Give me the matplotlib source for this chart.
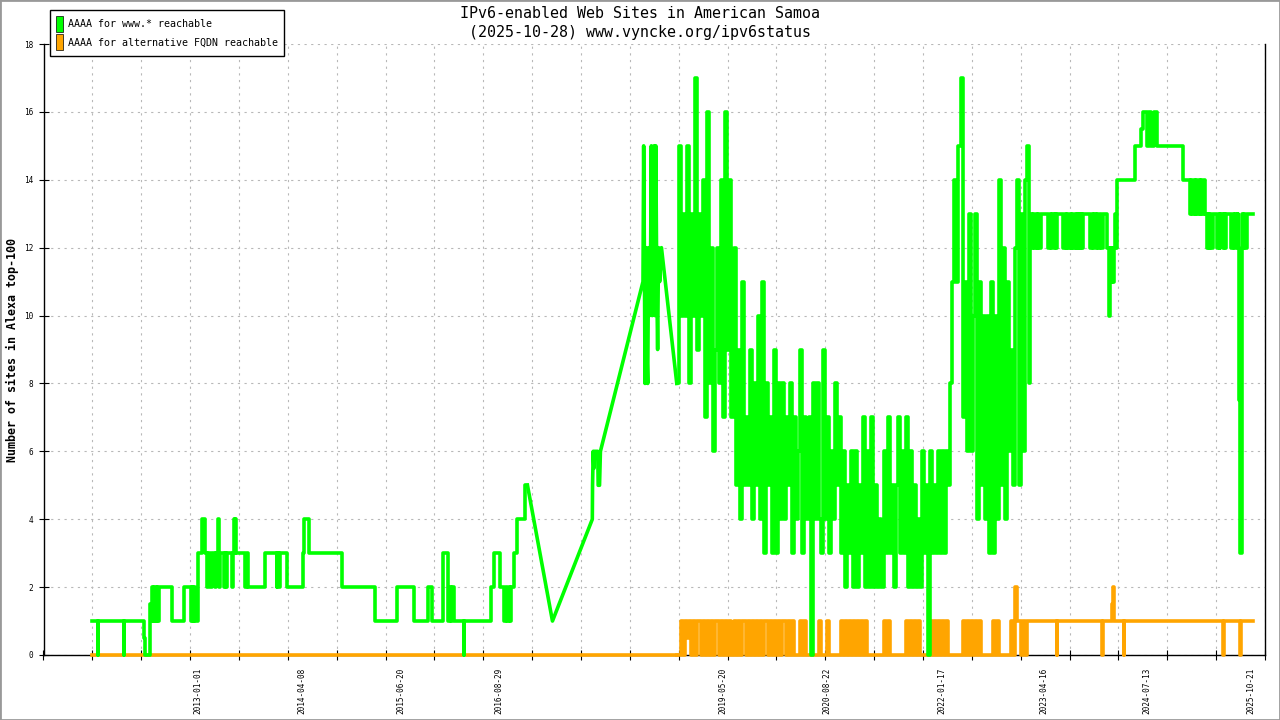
import matplotlib
matplotlib.use('Agg')
import matplotlib.pyplot as plt
import matplotlib.dates as mdates
from matplotlib.patches import Patch, Rectangle
import numpy as np
import pandas as pd

GREEN = '#00ff00'
ORANGE = '#ffa500'
MONO = 'DejaVu Sans Mono'

# --- AAAA for www.* : quiet years, count holds until the next date ---
green_early_dates = [
    '2011-09-16', '2011-10-13', '2011-10-15', '2012-02-06', '2012-02-08', '2012-05-05',
    '2012-05-09', '2012-06-01', '2012-06-05', '2012-06-09', '2012-06-14', '2012-06-20',
    '2012-06-25', '2012-06-30', '2012-07-04', '2012-07-10', '2012-09-07', '2012-10-30',
    '2012-12-01', '2012-12-05', '2012-12-10', '2012-12-15', '2012-12-19', '2012-12-29',
    '2013-01-19', '2013-01-31', '2013-02-08', '2013-02-12', '2013-02-24', '2013-03-02',
    '2013-03-17', '2013-03-20', '2013-03-28', '2013-04-04', '2013-04-08', '2013-04-26',
    '2013-04-30', '2013-05-05', '2013-05-09', '2013-06-01', '2013-06-04', '2013-06-07',
    '2013-06-12', '2013-06-15', '2013-06-18', '2013-07-28', '2013-08-04', '2013-08-11',
    '2013-10-25', '2013-12-16', '2013-12-19', '2013-12-24', '2013-12-31', '2014-01-29',
    '2014-04-10', '2014-04-16', '2014-05-08', '2014-05-10', '2014-10-01', '2015-02-27',
    '2015-06-03', '2015-08-15', '2015-10-20', '2015-11-04', '2015-12-26', '2016-01-17',
    '2016-01-24', '2016-01-28', '2016-02-02', '2016-02-12', '2016-03-26', '2016-03-28',
    '2016-07-23', '2016-08-05', '2016-09-03', '2016-09-20', '2016-09-27', '2016-10-04',
    '2016-10-13', '2016-10-17', '2016-10-22', '2016-11-02', '2016-11-15', '2016-12-21',
    '2017-01-02',
]
green_early_vals = [
    1, 0, 1, 0, 1, 0.5,
    0, 1.5, 1, 2, 1, 2,
    1, 2, 1, 2, 1, 2,
    1, 2, 1, 2, 1, 3,
    4, 3, 2, 3, 2, 3,
    2, 3, 4, 2, 3, 2,
    3, 2, 3, 2, 3, 4,
    3, 4, 3, 2, 3, 2,
    3, 2, 3, 2, 3, 2,
    3, 4, 3.5, 3, 2, 1,
    2, 1, 2, 1, 3, 1,
    2, 1, 2, 1, 0, 1,
    2, 3, 2, 1, 2, 1,
    2, 1, 2, 3, 4, 5,
    5,
]

# sparse measurements 2017-2018, joined by straight lines
green_mid_dates = [
    '2017-01-02', '2017-04-23', '2017-10-17', '2017-10-18', '2017-10-21', '2017-10-24',
    '2017-10-27', '2017-11-10', '2017-11-12', '2017-11-18', '2017-11-22', '2018-05-30',
    '2018-06-02', '2018-06-05', '2018-06-08', '2018-06-12', '2018-06-16', '2018-06-20',
    '2018-06-24', '2018-06-28', '2018-07-02', '2018-07-06', '2018-07-10', '2018-07-14',
    '2018-07-18', '2018-07-22', '2018-07-26', '2018-07-30', '2018-08-03', '2018-08-07',
    '2018-08-12', '2018-08-20',
]
green_mid_vals = [
    5, 1, 4, 5, 6, 5.5,
    6, 6, 5, 5, 6, 11,
    15, 12, 8, 12, 9, 8,
    12, 10, 11, 15, 10, 12,
    15, 10, 15, 11, 9, 12,
    11, 12,
]

# noisy period 2018-2023, read every 9 days
dense_start = '2018-10-27'
dense_step = '9D'
green_dense = [
    8, 15, 10, 13, 10, 15, 8, 13, 10, 17,
    9, 13, 10, 14, 7, 16, 8, 12, 6, 9,
    12, 8, 14, 7, 16, 9, 14, 7, 12, 5,
    9, 4, 11, 5, 7, 5, 9, 4, 8, 5,
    10, 4, 11, 3, 8, 5, 7, 3, 9, 3,
    8, 4, 8, 4, 7, 5, 8, 3, 7, 4,
    6, 9, 3, 7, 4, 7, 0, 8, 4, 8,
    4, 3, 9, 4, 7, 3, 6, 4, 8, 5,
    7, 3, 6, 2, 5, 3, 6, 2, 6, 2,
    5, 3, 7, 2, 6, 2, 7, 2, 5, 2,
    4, 2, 6, 3, 7, 3, 5, 2, 5, 7,
    3, 6, 3, 7, 2, 6, 2, 5, 2, 4,
    2, 6, 3, 5, 0, 6, 3, 5, 3, 6,
    3, 6, 3, 6, 5, 8, 11, 14, 11, 15,
    17, 7, 11, 6, 13, 6, 10, 13, 4, 11,
    5, 10, 4, 10, 3, 11, 3, 10, 4, 14,
    5, 12, 4, 11, 6, 9, 5, 12, 14, 5,
    13, 6, 14, 15, 8,
]
orange_dense = [
    0, 0, 1, 0, 1, 0.5, 1, 0, 1, 0,
    1, 1, 0, 1, 0, 1, 0, 1, 0, 1,
    1, 0, 1, 0, 1, 0, 1, 0, 1, 0,
    1, 0, 1, 1, 0, 1, 0, 1, 0, 1,
    0, 1, 0, 1, 1, 0, 1, 0, 1, 0,
    1, 0, 1, 1, 0, 1, 0, 1, 0, 0,
    0, 1, 0, 1, 0, 0, 0, 0, 0, 0,
    1, 0, 0, 0, 1, 0, 0, 0, 0, 0,
    0, 1, 0, 1, 0, 1, 0, 1, 0, 1,
    0, 1, 0, 1, 0, 0, 0, 0, 0, 0,
    0, 0, 1, 0, 1, 0, 0, 0, 0, 0,
    0, 0, 0, 1, 0, 1, 0, 1, 0, 1,
    0, 0, 0, 0, 0, 1, 0, 1, 0, 1,
    0, 1, 0, 1, 0, 0, 0, 0, 0, 0,
    0, 1, 0, 1, 0, 1, 0, 1, 0, 1,
    0, 0, 0, 0, 0, 0, 1, 0, 1, 0,
    0, 0, 0, 0, 0, 1, 0, 2, 1, 1,
    0, 1, 0, 1, 1,
]

# steady again from 2023 (count holds until the next date)
green_late_dates = [
    '2023-02-12', '2023-02-20', '2023-02-26', '2023-03-03', '2023-03-09', '2023-03-14',
    '2023-03-20', '2023-03-25', '2023-04-01', '2023-05-04', '2023-05-10', '2023-05-16',
    '2023-05-22', '2023-05-28', '2023-06-03', '2023-06-07', '2023-06-11', '2023-07-10',
    '2023-07-16', '2023-07-20', '2023-07-26', '2023-07-31', '2023-08-06', '2023-08-11',
    '2023-08-17', '2023-08-23', '2023-08-29', '2023-09-03', '2023-09-09', '2023-09-12',
    '2023-09-15', '2023-09-22', '2023-09-27', '2023-10-02', '2023-10-07', '2023-11-06',
    '2023-11-12', '2023-11-18', '2023-11-24', '2023-11-30', '2023-12-06', '2023-12-12',
    '2023-12-18', '2023-12-24', '2023-12-31', '2024-01-21', '2024-01-27', '2024-01-30',
    '2024-02-03', '2024-02-07', '2024-02-11', '2024-02-15', '2024-02-19', '2024-02-25',
    '2024-02-28', '2024-03-03', '2024-05-23', '2024-06-18', '2024-06-26', '2024-07-14',
    '2024-07-26', '2024-08-01', '2024-08-16', '2024-08-28', '2024-12-24', '2025-01-22',
    '2025-01-28', '2025-02-02', '2025-02-08', '2025-02-13', '2025-02-19', '2025-02-24',
    '2025-03-02', '2025-03-07', '2025-03-13', '2025-03-18', '2025-03-24', '2025-03-30',
    '2025-04-06', '2025-04-12', '2025-04-17', '2025-04-22', '2025-04-27', '2025-05-02',
    '2025-05-24', '2025-05-29', '2025-06-02', '2025-06-06', '2025-06-18', '2025-06-23',
    '2025-06-28', '2025-07-03', '2025-07-25', '2025-07-30', '2025-08-04', '2025-08-09',
    '2025-08-19', '2025-08-22', '2025-08-25', '2025-08-28', '2025-09-03', '2025-09-08',
    '2025-09-12', '2025-09-16', '2025-09-20', '2025-09-24', '2025-09-30', '2025-10-28',
]
green_late_vals = [
    13, 12, 13, 12, 13, 12,
    13, 12, 13, 12, 13, 12,
    13, 12, 13, 12, 13, 12,
    13, 12, 13, 12, 13, 12,
    13, 12, 13, 12, 13, 12,
    13, 12, 13, 12, 13, 12,
    13, 12, 13, 12, 13, 12,
    13, 12, 13, 12, 11, 10,
    12, 11, 12, 11, 12, 13,
    12, 14, 15, 15.5, 16, 15,
    16, 15, 16, 15, 14, 13,
    14, 13, 14, 13, 14, 13,
    14, 13, 14, 13, 14, 13,
    12, 13, 12, 13, 12, 13,
    12, 13, 12, 13, 12, 13,
    12, 13, 12, 13, 12, 13,
    12, 13, 12, 7.5, 3, 12,
    13, 12, 13, 12, 13, 13,
]

# AAAA for alternative FQDN
orange_start = '2011-09-16'
orange_late_dates = [
    '2023-02-12', '2023-06-10', '2023-06-13', '2023-12-28', '2023-12-31', '2024-02-10',
    '2024-02-14', '2024-02-18', '2024-04-03', '2024-04-06', '2025-06-19', '2025-06-23',
    '2025-09-02', '2025-09-06', '2025-10-28',
]
orange_late_vals = [1, 0, 1, 0, 1, 1.5, 2, 1, 0, 1, 0, 1, 0, 1, 1]

label_dates = ['2013-01-01', '2014-04-08', '2015-06-20', '2016-08-29', '2019-05-20',
               '2020-08-22', '2022-01-17', '2023-04-16', '2024-07-13', '2025-10-21']
x_start, x_end = '2011-02-14', '2025-12-21'


def num(dates):
    return mdates.date2num(pd.to_datetime(dates).to_pydatetime())


dense_x = mdates.date2num(pd.date_range(dense_start, periods=len(green_dense),
                                        freq=dense_step).to_pydatetime())

fig = plt.figure(figsize=(12.8, 7.2), dpi=100)
ax = fig.add_axes([43.5 / 1280, 65 / 720, (1265 - 43.5) / 1280, (655 - 44) / 720])

line_kw = dict(lw=2.6, clip_on=False)

# orange first, green drawn on top
ax.plot(np.concatenate([num([orange_start]), dense_x[:1]]), [0, orange_dense[0]],
        color=ORANGE, zorder=3, **line_kw)
ax.plot(np.concatenate([dense_x, num(orange_late_dates)]), orange_dense + orange_late_vals,
        color=ORANGE, drawstyle='steps-post', zorder=3, **line_kw)

ax.plot(num(green_early_dates), green_early_vals, color=GREEN,
        drawstyle='steps-post', zorder=4, **line_kw)
# gaps in the measurements are bridged by straight segments
ax.plot(np.concatenate([num(green_mid_dates), dense_x[:1]]),
        green_mid_vals + green_dense[:1], color=GREEN, zorder=4, **line_kw)
ax.plot(np.concatenate([dense_x, num(green_late_dates)]), green_dense + green_late_vals,
        color=GREEN, drawstyle='steps-post', zorder=4, **line_kw)

# axes, ticks, grid
ax.set_xlim(num([x_start])[0], num([x_end])[0])
ax.set_ylim(0, 18)
ax.set_yticks(range(0, 19, 2))
ax.set_xticks(num(label_dates))
ax.set_xticklabels(label_dates, rotation=90, fontsize=5.6, family=MONO)
ax.set_xticks(np.linspace(*ax.get_xlim(), 26), minor=True)
for lab in ax.get_yticklabels():
    lab.set_family(MONO)
ax.tick_params(axis='y', which='major', direction='inout', length=6.5, width=0.8,
               labelsize=5.6, pad=4)
ax.tick_params(axis='x', which='major', length=0, pad=9)
ax.tick_params(axis='x', which='minor', direction='inout', length=6.5, width=0.8)

grid_kw = dict(color='#b8b8b8', lw=0.8, ls=(0, (2, 4)))
ax.grid(axis='x', which='minor', **grid_kw)
ax.grid(axis='y', which='major', **grid_kw)
ax.set_axisbelow(True)

ax.spines['top'].set_visible(False)
for s in ('left', 'bottom', 'right'):
    ax.spines[s].set_linewidth(1.0)
    ax.spines[s].set_color('black')

# titles and labels
fig.text(0.5, 1 - 14 / 720, 'IPv6-enabled Web Sites in American Samoa',
         ha='center', va='center', fontsize=10.8, family=MONO)
fig.text(0.5, 1 - 32 / 720, '(2025-10-28) www.vyncke.org/ipv6status',
         ha='center', va='center', fontsize=10.8, family=MONO)
fig.text(12 / 1280, 1 - 350 / 720, 'Number of sites in Alexa top-100', rotation=90,
         ha='center', va='center', fontsize=8.4, fontweight='bold', family=MONO)

handles = [
    Patch(facecolor=GREEN, edgecolor='black', lw=0.5, label='AAAA for www.* reachable'),
    Patch(facecolor=ORANGE, edgecolor='black', lw=0.5,
          label='AAAA for alternative FQDN reachable'),
]
leg = fig.legend(handles=handles, loc='upper left',
                 bbox_to_anchor=(50 / 1280, 1 - 10 / 720), bbox_transform=fig.transFigure,
                 prop={'family': MONO, 'size': 7.2}, frameon=True, fancybox=False,
                 edgecolor='black', framealpha=1, handlelength=0.7, handleheight=2.1,
                 handletextpad=0.45, labelspacing=0.2, borderpad=0.6, borderaxespad=0)
leg.get_frame().set_linewidth(1.0)

fig.patches.append(Rectangle((0, 0), 1, 1, transform=fig.transFigure, fill=False,
                             edgecolor='#999999', lw=2))

fig.savefig('out.png', dpi=100)
